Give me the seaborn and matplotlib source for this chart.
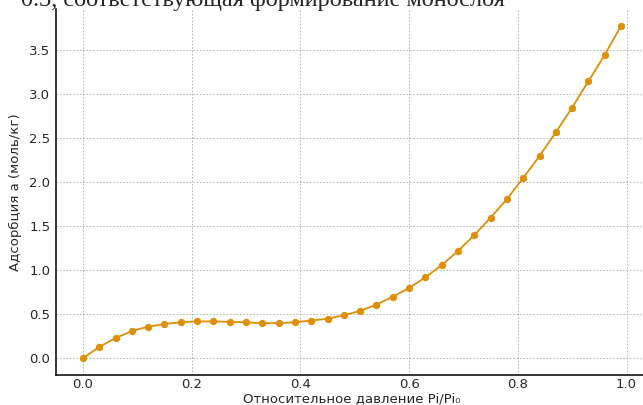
import matplotlib
matplotlib.use("Agg")
import matplotlib.pyplot as plt
import seaborn as sns
import pandas as pd

# Data
rel_pressure = [0.00, 0.03, 0.06, 0.09, 0.12, 0.15, 0.18, 0.21, 0.24, 0.27,
                0.30, 0.33, 0.36, 0.39, 0.42, 0.45, 0.48, 0.51, 0.54, 0.57,
                0.60, 0.63, 0.66, 0.69, 0.72, 0.75, 0.78, 0.81, 0.84, 0.87,
                0.90, 0.93, 0.96, 0.99]
adsorption = [0.00, 0.13, 0.23, 0.31, 0.36, 0.39, 0.41, 0.42, 0.42, 0.415,
              0.41, 0.40, 0.40, 0.41, 0.43, 0.45, 0.49, 0.54, 0.61, 0.70,
              0.80, 0.92, 1.06, 1.22, 1.40, 1.60, 1.81, 2.05, 2.30, 2.57,
              2.85, 3.15, 3.45, 3.78]
x_ticks = [0.0, 0.2, 0.4, 0.6, 0.8, 1.0]
y_ticks = [0.0, 0.5, 1.0, 1.5, 2.0, 2.5, 3.0, 3.5]
title_text = "0.3, соответствующая формирование монослоя"
x_label = "Относительное давление Pi/Pi₀"
y_label = "Адсорбция a (моль/кг)"

sns.set_style("white")
plt.rcParams['font.family'] = ['DejaVu Sans']

df = pd.DataFrame({"p": rel_pressure, "a": adsorption})

fig = plt.figure(figsize=(6.43, 4.05), dpi=100)
ax = fig.add_axes([56 / 643, 30 / 405, 592 / 643, 366 / 405])

color = "#DE8F05"
sns.lineplot(data=df, x="p", y="a", ax=ax, color=color, linewidth=1.3,
             marker="o", markersize=4.5, markeredgecolor=color,
             markerfacecolor=color)

ax.set_xticks(x_ticks)
ax.set_yticks(y_ticks)
ax.set_xticklabels([f"{v:.1f}" for v in x_ticks], fontsize=9.5)
ax.set_yticklabels([f"{v:.1f}" for v in y_ticks], fontsize=9.5)
ax.set_xlim(-0.0495, 1.0395)
ax.set_ylim(-0.189, 3.97)
ax.set_xlabel(x_label, fontsize=9.5, labelpad=1)
ax.set_ylabel(y_label, fontsize=9.5, labelpad=5)

ax.grid(True, linestyle="--", linewidth=0.6, color="#aaaaaa", dashes=(2, 2))
ax.tick_params(direction="in", length=3, width=0.8, color="black")
ax.tick_params(axis="x", pad=2)
ax.tick_params(axis="y", pad=4)

for side in ["top", "right"]:
    ax.spines[side].set_visible(False)
for side in ["left", "bottom"]:
    ax.spines[side].set_color("black")
    ax.spines[side].set_linewidth(1.1)

fig.text(21 / 643, 1 - 6 / 405, title_text, fontsize=17.5,
         fontfamily="Liberation Serif", va="baseline", ha="left")

fig.savefig("out.png", dpi=100)
